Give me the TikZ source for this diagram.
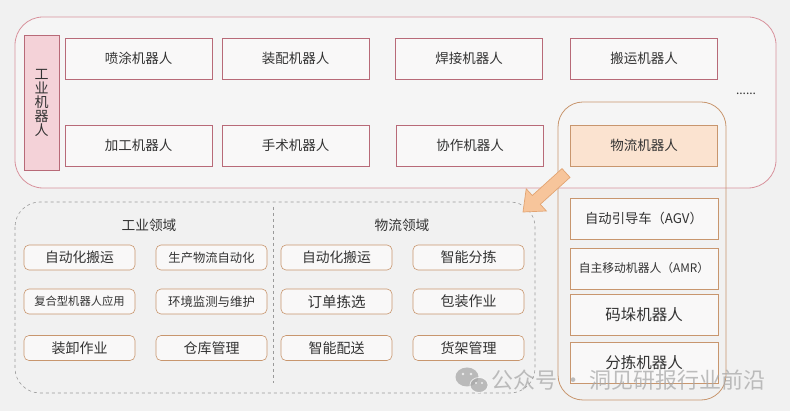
\documentclass[tikz,border=0pt]{standalone}
\usepackage{fontspec}
\setmainfont{Noto Sans CJK SC}
\usetikzlibrary{positioning}
\definecolor{bg}{HTML}{F1F1F1}
\definecolor{txt}{HTML}{333333}
\definecolor{redline}{HTML}{B86A78}
\definecolor{outerred}{HTML}{D8929C}
\definecolor{pinkfill}{HTML}{F4D2D8}
\definecolor{boxfill}{HTML}{F9F8F8}
\definecolor{orline}{HTML}{C8966E}
\definecolor{peach}{HTML}{FBE3D0}
\definecolor{arrowfill}{HTML}{F7C59B}
\definecolor{arrowline}{HTML}{E2A472}
\definecolor{dashgray}{HTML}{9A9A9A}
\definecolor{wm}{HTML}{A8A8A8}
\begin{document}
\begin{tikzpicture}[x=1pt,y=-1pt,
  every node/.style={text=txt, inner sep=0pt},
  topbox/.style={draw=redline, fill=boxfill, line width=0.7pt, minimum width=147pt, minimum height=41pt, font=\fontsize{13.5}{14}\selectfont},
  rbox/.style={draw=orline, fill=boxfill, line width=0.7pt, minimum width=148pt, minimum height=41pt},
  sbox/.style={draw=orline, fill=boxfill, line width=0.6pt, rounded corners=5pt, minimum width=111pt, minimum height=25pt},
  head/.style={font=\fontsize{13.7}{14}\selectfont}
]
\useasboundingbox (0,0) rectangle (790,411);
\fill[bg] (0,0) rectangle (790,411);

% outer top container
\draw[outerred, line width=0.8pt, fill=white, fill opacity=0.35, draw opacity=1] (15,17) [rounded corners=28pt] rectangle (776,188);

% logistics container
\draw[orline, line width=0.8pt, rounded corners=25pt] (558,102) rectangle (726,400);

% industrial robot label
\node[draw=redline, fill=pinkfill, line width=0.7pt, minimum width=35pt, minimum height=135pt, align=center, font=\fontsize{14}{14}\selectfont] (ind) at (41.5,102.5) {工\\业\\机\\器\\人};

% top row boxes
\node[topbox] (pt) at (138.5,58.5) {喷涂机器人};
\node[topbox] (zp) at (295.5,58.5) {装配机器人};
\node[topbox] (hj) at (469,58.5) {焊接机器人};
\node[topbox] (by) at (644,58.5) {搬运机器人};
\node[topbox] (jg) at (138.5,145.5) {加工机器人};
\node[topbox] (ss) at (295.5,145.5) {手术机器人};
\node[topbox] (xz) at (470,145.5) {协作机器人};
\node[topbox, draw=orline, fill=peach] (wl) at (644,145.5) {物流机器人};
\node[font=\fontsize{12}{12}\selectfont] (dots) at (746,94) {......};

% right column
\node[rbox, font=\fontsize{13.3}{14}\selectfont] (agv) at (644,218.5) {自动引导车（AGV）};
\node[rbox, font=\fontsize{11.8}{12}\selectfont] (amr) at (644,268.5) {自主移动机器人（AMR）};
\node[rbox, font=\fontsize{15.5}{16}\selectfont] (md) at (644,314.5) {码垛机器人};
\node[rbox, font=\fontsize{15.5}{16}\selectfont] (fj) at (644,363) {分拣机器人};

% dashed application area
\draw[dashgray, line width=0.6pt, dashed, rounded corners=25pt] (15,202) rectangle (535,393);
\draw[dashgray, line width=0.6pt, dashed] (273,207) -- (273,383);

\node[head] (h1) at (149,225) {工业领域};
\node[head] (h2) at (402,225) {物流领域};

\node[sbox, font=\fontsize{13.8}{14}\selectfont] (a1) at (79.5,257.5) {自动化搬运};
\node[sbox, font=\fontsize{12.3}{13}\selectfont] (a2) at (211.5,257.5) {生产物流自动化};
\node[sbox, font=\fontsize{11.3}{12}\selectfont] (a3) at (79.5,301.5) {复合型机器人应用};
\node[sbox, font=\fontsize{12.4}{13}\selectfont] (a4) at (211.5,301.5) {环境监测与维护};
\node[sbox, font=\fontsize{14}{14}\selectfont] (a5) at (79.5,348) {装卸作业};
\node[sbox, font=\fontsize{14}{14}\selectfont] (a6) at (211.5,348) {仓库管理};

\node[sbox, font=\fontsize{13.8}{14}\selectfont] (b1) at (336.5,257.5) {自动化搬运};
\node[sbox, font=\fontsize{14}{14}\selectfont] (b2) at (468.5,257.5) {智能分拣};
\node[sbox, font=\fontsize{14.5}{15}\selectfont] (b3) at (336.5,301.5) {订单拣选};
\node[sbox, font=\fontsize{14}{14}\selectfont] (b4) at (468.5,301.5) {包装作业};
\node[sbox, font=\fontsize{14}{14}\selectfont] (b5) at (336.5,348) {智能配送};
\node[sbox, font=\fontsize{14}{14}\selectfont] (b6) at (468.5,348) {货架管理};

% block arrow
\draw[arrowline, fill=arrowfill, line width=0.7pt, line join=miter]
  (523,212) -- (546.4,211.0) -- (540.3,204.3) -- (570.0,177.4) -- (562.0,168.6)
  -- (532.3,195.5) -- (526.2,188.8) -- cycle;

% watermark
\begin{scope}[opacity=0.75]
\fill[wm] (467,377) ellipse [x radius=11.5pt, y radius=9.5pt];
\fill[wm] (479,385) ellipse [x radius=9pt, y radius=7.5pt];
\draw[white, line width=0.8pt] (479,385) ellipse [x radius=9pt, y radius=7.5pt];
\fill[white] (463,374) circle (1.4pt) (471,374) circle (1.4pt) (476,383) circle (1.1pt) (482,383) circle (1.1pt);
\node[text=wm, font=\fontsize{22}{22}\selectfont, anchor=west] (wmt) at (491,380) {公众号 · 洞见研报行业前沿};
\end{scope}
\end{tikzpicture}
\end{document}
